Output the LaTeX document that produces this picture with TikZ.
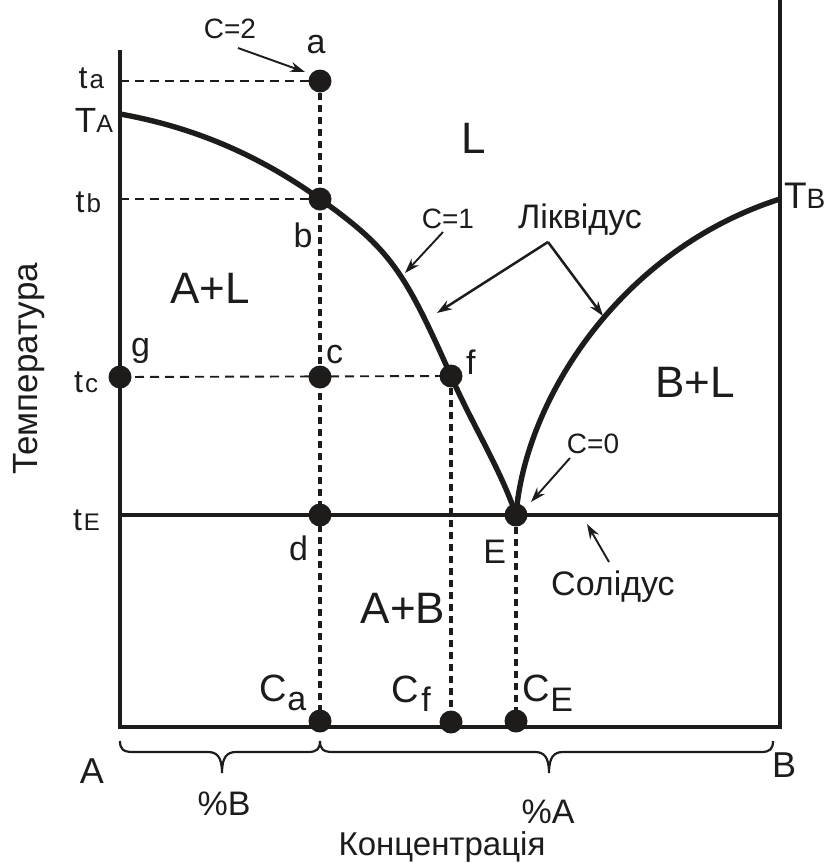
\documentclass[tikz,border=0pt]{standalone}
\usepackage{fontspec}
\setmainfont{Liberation Sans}
\usetikzlibrary{arrows.meta}
\definecolor{ink}{RGB}{30,28,26}
\newcommand\fsz[1]{\fontsize{#1}{#1}\selectfont}
\begin{document}
\begin{tikzpicture}[x=1pt,y=-1pt,
  every node/.style={inner sep=0pt, outer sep=0pt, text=ink},
  lbl/.style={font=\fsz{34}},
  big/.style={font=\fsz{44}},
  cnum/.style={font=\fsz{28}},
  dot/.style={circle, fill=ink, minimum size=23pt},
  axis/.style={draw=ink, line width=3.3pt},
  curve/.style={draw=ink, line width=5.4pt},
  hdash/.style={draw=ink, line width=1.9pt, dash pattern=on 9pt off 6pt},
  vdash/.style={draw=ink, line width=3.2pt, dash pattern=on 7pt off 5pt},
  arr/.style={draw=ink, line width=1.9pt, -{Stealth[length=15pt,width=10pt]}},
  brc/.style={draw=ink, line width=2.2pt}]
\useasboundingbox (0,0) rectangle (829,863);

% frame coordinates
\coordinate (Atop) at (120,50);
\coordinate (Abot) at (120,727);
\coordinate (Btop) at (780,0);
\coordinate (Bbot) at (780,727);
\coordinate (tEl) at (120,515);
\coordinate (tEr) at (780,515);
\coordinate (TA) at (120,114);
\coordinate (TB) at (780,199);
\coordinate (tal) at (120,81);
\coordinate (tbl) at (120,199);

% dot positions
\coordinate (pa) at (320,81);
\coordinate (pb) at (320,199);
\coordinate (pc) at (320,377);
\coordinate (pd) at (320,515);
\coordinate (pg) at (120,377);
\coordinate (pf) at (451,376);
\coordinate (pE) at (516,515);
\coordinate (pCa) at (320,721);
\coordinate (pCf) at (451,722);
\coordinate (pCE) at (516,721);

% axes and lines
\draw[axis] (Atop) -- (Abot) -- (Bbot) -- (Btop);
\draw[draw=ink, line width=4.6pt] (tEl) -- (tEr);

% dashed guides
\draw[hdash] (tal) -- (pa);
\draw[hdash] (tbl) -- (pb);
\draw[hdash] (pg) -- (pf);
\draw[vdash] (pa) -- (pCa);
\draw[vdash] (pf) -- (pCf);
\draw[vdash] (pE) -- (pCE);

% liquidus curves
\draw[curve] (TA) .. controls (187,126) and (253,151) .. (pb)
  .. controls (390,249) and (404,270) .. (pf)
  .. controls (472,424) and (501,470) .. (pE);
\draw[curve] (pE) .. controls (525,400) and (620,250) .. (TB);

% dots
\node[dot] (a) at (pa) {};
\node[dot] (b) at (pb) {};
\node[dot] (c) at (pc) {};
\node[dot] (d) at (pd) {};
\node[dot] (g) at (pg) {};
\node[dot] (f) at (pf) {};
\node[dot] (E) at (pE) {};
\node[dot] (Ca) at (pCa) {};
\node[dot] (Cf) at (pCf) {};
\node[dot] (CE) at (pCE) {};

% left axis labels
\node[anchor=base east, font=\fsz{32}] (lta) at (104,88) {t\kern2pt{\fsz{26}a}};
\node[anchor=base east, font=\fsz{35}] (lTA) at (113,132) {T{\fsz{25}A}};
\node[anchor=base east, font=\fsz{32}] (ltb) at (101,212) {t\kern2pt{\fsz{26}b}};
\node[anchor=base east, font=\fsz{32}] (ltc) at (98,392) {t\kern2pt{\fsz{26}c}};
\node[anchor=base east, font=\fsz{32}] (ltE) at (100,530) {t\kern2pt{\fsz{24}E}};
\node[anchor=base west, font=\fsz{37}] (lTB) at (784,208) {T{\fsz{28}B}};

% point labels
\node[lbl, anchor=base] (la) at (316,53) {a};
\node[lbl, anchor=base] (lb) at (303,247) {b};
\node[lbl, anchor=base west] (lc) at (326,363) {c};
\node[lbl, anchor=base east] (ld) at (308,560) {d};
\node[lbl, anchor=base west] (lg) at (131,356) {g};
\node[lbl, anchor=base west] (lf) at (466,374) {f};
\node[lbl, anchor=base east] (lE) at (506,563) {E};

% region labels
\node[big, anchor=base] (lL) at (474,153) {L};
\node[big, anchor=base] (lAL) at (210,303) {A+L};
\node[big, anchor=base] (lBL) at (695,397) {B+L};
\node[big, anchor=base] (lAB) at (403,623) {A+B};

% annotations
\node[cnum, anchor=base] (c2) at (230,38) {C=2};
\node[cnum, anchor=base] (c1) at (448,228) {C=1};
\node[cnum, anchor=base] (c0) at (593,453) {C=0};
\node[lbl, anchor=base] (liq) at (580,228) {Ліквідус};
\node[lbl, anchor=base] (sol) at (613,595) {Солідус};

\coordinate (c2s) at (238,48);
\coordinate (c2e) at (305,72);
\coordinate (c1s) at (443,232);
\coordinate (c1e) at (405,273);
\coordinate (lqs) at (548,242);
\coordinate (lqe1) at (437,313);
\coordinate (lqe2) at (603,316);
\coordinate (c0s) at (570,458);
\coordinate (c0e) at (531,502);
\coordinate (sls) at (609,562);
\coordinate (sle) at (587,524);
\draw[arr] (c2s) -- (c2e);
\draw[arr] (c1s) -- (c1e);
\draw[arr, line width=2.5pt] (lqs) -- (lqe1);
\draw[arr, line width=2.5pt] (lqs) -- (lqe2);
\draw[arr] (c0s) -- (c0e);
\draw[arr] (sls) -- (sle);

% concentration labels
\node[anchor=base west, font=\fsz{38}] (lCa) at (259,701) {C\kern1pt\raisebox{-9pt}{\fsz{34}a}};
\node[anchor=base west, font=\fsz{38}] (lCf) at (391,702) {C\kern3pt\raisebox{-9pt}{\fsz{34}f}};
\node[anchor=base west, font=\fsz{38}] (lCE) at (522,701) {C\kern1pt\raisebox{-10pt}{\fsz{34}E}};

% braces
\draw[brc] (120,741) .. controls (120,749) and (123,752) .. (133,752)
  -- (208,752) .. controls (217,752) and (222,757) .. (222,773)
  .. controls (222,757) and (227,752) .. (236,752)
  -- (308,752) .. controls (317,752) and (320,749) .. (320,741);
\draw[brc] (320,741) .. controls (320,749) and (323,752) .. (333,752)
  -- (535,752) .. controls (544,752) and (549,757) .. (549,773)
  .. controls (549,757) and (554,752) .. (563,752)
  -- (761,752) .. controls (770,752) and (773,749) .. (773,741);

\node[anchor=base, font=\fsz{36}] (lA) at (92,783) {A};
\node[anchor=base, font=\fsz{36}] (lB) at (784,777) {B};
\node[anchor=base, font=\fsz{34}] (pB) at (224,815) {\%B};
\node[anchor=base, font=\fsz{34}] (pA) at (548,823) {\%A};
\node[anchor=base, font=\fsz{33}] (conc) at (442,855) {Концентрація};
\node[anchor=base, font=\fsz{35}, rotate=90] (temp) at (37,369) {Температура};
\end{tikzpicture}
\end{document}
